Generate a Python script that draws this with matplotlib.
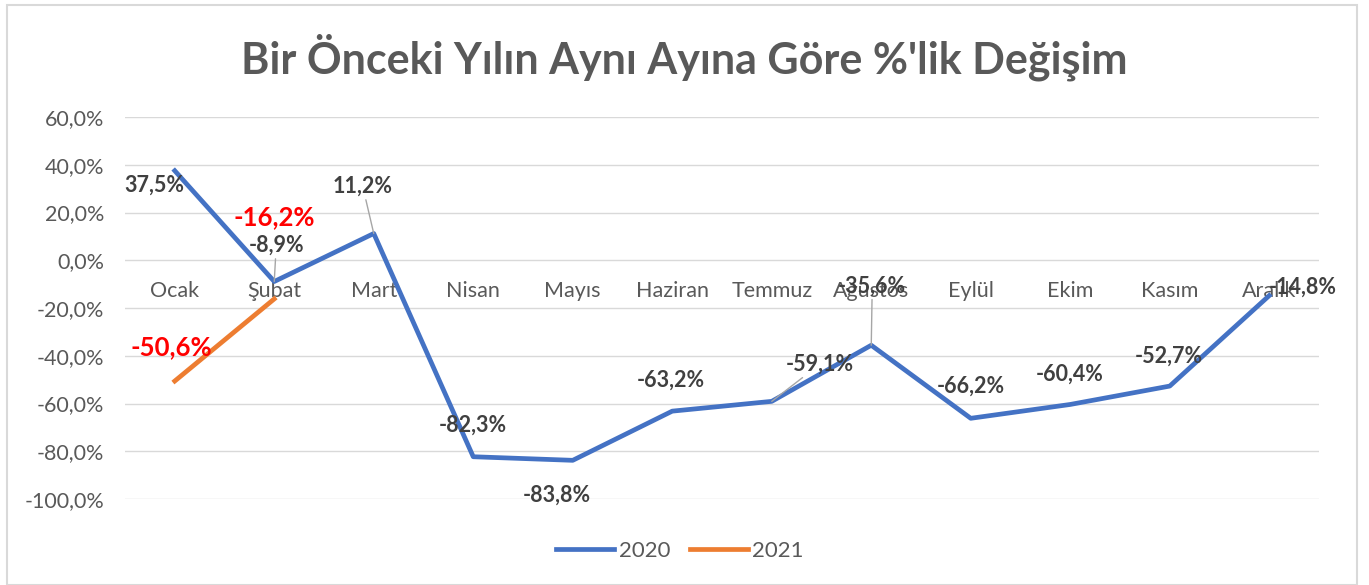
import matplotlib
matplotlib.use("Agg")
import matplotlib.pyplot as plt
from matplotlib.patches import Rectangle
from matplotlib.ticker import FuncFormatter

months = ["Ocak", "Şubat", "Mart", "Nisan", "Mayıs", "Haziran", "Temmuz",
          "Ağustos", "Eylül", "Ekim", "Kasım", "Aralık"]
values_2020 = [37.5, -8.9, 11.2, -82.3, -83.8, -63.2, -59.1, -35.6, -66.2, -60.4, -52.7, -14.8]
values_2021 = [-50.6, -16.2]
title = "Bir Önceki Yılın Aynı Ayına Göre %'lik Değişim"

# label offsets in pixels (dx, dy) relative to each point
offs_2020 = [(-20, -14), (2, 36), (-11, 47), (0, 32), (-16, -35), (-1, 31),
             (48, 37), (1, 59), (0, 32), (-1, 30), (-1, 30), (34, 8)]
leader_2020 = [False, True, True, False, False, False, True, True, False, False, False, False]
offs_2021 = [(-3, 34), (0, 82)]

FONT = "Lato"
plt.rcParams['font.family'] = [FONT, 'DejaVu Sans']

fig = plt.figure(figsize=(13.69, 5.85), dpi=100)
ax = fig.add_axes([125/1369, 1-499/585, (1319-125)/1369, (499-117)/585])

x = list(range(len(months)))
ax.plot(x, values_2020, color="#4472C4", lw=3.4, solid_joinstyle='round', label="2020", zorder=3)
ax.plot(x[:len(values_2021)], values_2021, color="#ED7D31", lw=3.4, label="2021", zorder=3)

def fmt(v):
    return f"{v:.1f}%".replace(".", ",")

for i, (v, (dx, dy), ld) in enumerate(zip(values_2020, offs_2020, leader_2020)):
    kw = {}
    if ld:
        kw['arrowprops'] = dict(arrowstyle='-', color='#A6A6A6', lw=1, shrinkA=0, shrinkB=0)
    ax.annotate(fmt(v), xy=(i, v), xytext=(dx, dy), textcoords='offset pixels',
                ha='center', va='center', fontsize=15.5, fontweight='bold',
                color='#404040', zorder=4, **kw)

for i, (v, (dx, dy)) in enumerate(zip(values_2021, offs_2021)):
    ax.annotate(fmt(v), xy=(i, v), xytext=(dx, dy), textcoords='offset pixels',
                ha='center', va='center', fontsize=18.5, fontweight='bold',
                color='#FF0000', zorder=4)

ax.set_xlim(-0.5, len(months) - 0.5)
ax.set_ylim(-100, 60)
ax.set_yticks(range(-100, 61, 20))
ax.yaxis.set_major_formatter(FuncFormatter(lambda v, p: fmt(v)))
ax.set_xticks(x)
ax.set_xticklabels(months)
ax.spines['bottom'].set_position(('data', 0))
for s in ax.spines.values():
    s.set_visible(False)
ax.tick_params(axis='x', length=0, pad=15, labelsize=15.5, labelcolor='#595959')
ax.tick_params(axis='y', length=0, pad=15, labelsize=15.5, labelcolor='#595959')
ax.grid(axis='y', color='#D9D9D9', lw=1)
ax.set_axisbelow(True)

fig.text(0.5, 1-57/585, title, ha='center', va='center', fontsize=31,
         fontweight='bold', color='#595959')

leg = fig.legend(loc='center', bbox_to_anchor=(680/1369, 1-551/585), ncol=2, frameon=False,
                 fontsize=16, handlelength=2.6, columnspacing=0.9, handletextpad=0.2)
for t in leg.get_texts():
    t.set_color('#595959')

fig.patches.append(Rectangle((7/1369, 0), (1357-7)/1369, 1-5/585, transform=fig.transFigure,
                             fill=False, edgecolor='#D9D9D9', lw=1.5))

fig.savefig("out.png", dpi=100)
